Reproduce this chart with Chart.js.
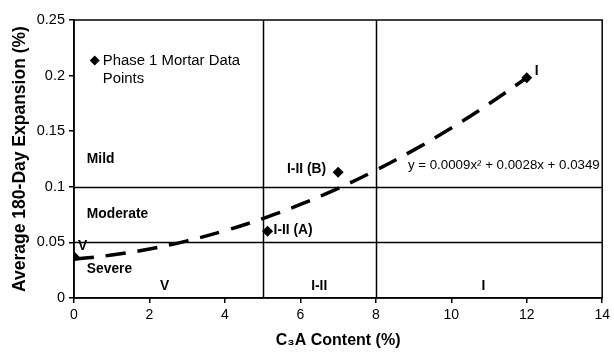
<!DOCTYPE html>
<html>
<head>
<meta charset="utf-8">
<script src="https://cdn.jsdelivr.net/npm/chart.js@4.4.1/dist/chart.umd.min.js"></script>
<style>
    html, body { margin: 0; padding: 0; background: #fff; }
    #wrap { width: 614px; height: 354px; }
</style>
</head>
<body>
<div id="wrap"><canvas id="c3aChart"></canvas></div>
<script>
// mortar data points (C3A %, expansion %)
const pointX = [0, 5.13, 7.0, 12.0];
const pointY = [0.037, 0.060, 0.113, 0.198];
const pointLabels = ['V', 'I-II (A)', 'I-II (B)', 'I'];

// polynomial trend line
const trendX = [0, 1, 2, 3, 4, 5, 6, 7, 8, 9, 10, 11, 12];
const trendY = [0.0349, 0.0386, 0.0441, 0.0514, 0.0605, 0.0714, 0.0841, 0.0986, 0.1149, 0.1330, 0.1529, 0.1746, 0.1981];

// zone boundaries
const zoneX = [5, 8];
const zoneY = [0.05, 0.1];

const severityLabels = ['Mild', 'Moderate', 'Severe'];
const severityY = [0.125, 0.075, 0.026];
const typeLabels = ['V', 'I-II', 'I'];
const typeX = [2.4, 6.5, 10.85];

const equationText = 'y = 0.0009x\u00B2 + 0.0028x + 0.0349';
const legendText = ['Phase 1 Mortar Data', 'Points'];

const font = '"Liberation Sans", Arial, sans-serif';

const overlayPlugin = {
    id: 'overlay',
    beforeDatasetsDraw(chart) {
        const ctx = chart.ctx;
        const xs = chart.scales.x, ys = chart.scales.y;
        const area = chart.chartArea;
        ctx.save();
        ctx.strokeStyle = '#000';
        ctx.lineWidth = 1.5;
        zoneX.forEach(v => {
            const px = Math.round(xs.getPixelForValue(v)) + 0.5;
            ctx.beginPath();
            ctx.moveTo(px, area.top);
            ctx.lineTo(px, area.bottom);
            ctx.stroke();
        });
        zoneY.forEach(v => {
            const py = Math.round(ys.getPixelForValue(v)) + 0.5;
            ctx.beginPath();
            ctx.moveTo(area.left, py);
            ctx.lineTo(area.right, py);
            ctx.stroke();
        });
        ctx.strokeRect(area.left, area.top, area.right - area.left, area.bottom - area.top);
        ctx.restore();
    },
    afterDatasetsDraw(chart) {
        const ctx = chart.ctx;
        const xs = chart.scales.x, ys = chart.scales.y;
        ctx.save();
        ctx.fillStyle = '#000';
        ctx.textBaseline = 'middle';

        ctx.font = 'bold 13.8px ' + font;
        ctx.textAlign = 'left';
        severityLabels.forEach((t, i) => {
            ctx.fillText(t, xs.getPixelForValue(0.34), ys.getPixelForValue(severityY[i]));
        });
        ctx.textAlign = 'center';
        typeLabels.forEach((t, i) => {
            ctx.fillText(t, xs.getPixelForValue(typeX[i]), ys.getPixelForValue(0.011));
        });

        // labels next to the data points
        const px = i => xs.getPixelForValue(pointX[i]);
        const py = i => ys.getPixelForValue(pointY[i]);
        ctx.textAlign = 'left';
        ctx.fillText(pointLabels[0], px(0) + 4, py(0) - 11);
        ctx.fillText(pointLabels[1], px(1) + 6, py(1) - 1);
        ctx.textAlign = 'right';
        ctx.fillText(pointLabels[2], px(2) - 12, py(2) - 3);
        ctx.textAlign = 'left';
        ctx.fillText(pointLabels[3], px(3) + 8, py(3) - 7);

        ctx.font = '13.3px ' + font;
        ctx.fillText(equationText, xs.getPixelForValue(8.85), ys.getPixelForValue(0.1195));

        // legend
        const lx = xs.getPixelForValue(0.55), ly = ys.getPixelForValue(0.2135);
        ctx.beginPath();
        ctx.moveTo(lx, ly - 5);
        ctx.lineTo(lx + 5, ly);
        ctx.lineTo(lx, ly + 5);
        ctx.lineTo(lx - 5, ly);
        ctx.closePath();
        ctx.fill();
        ctx.font = '14.9px ' + font;
        ctx.fillText(legendText[0], lx + 8, ly);
        ctx.fillText(legendText[1], lx + 8, ly + 18);
        ctx.restore();
    }
};

const ctx = document.getElementById('c3aChart').getContext('2d');
new Chart(ctx, {
    type: 'scatter',
    data: {
        datasets: [{
            label: 'Trend',
            data: trendX.map((x, i) => ({ x: x, y: trendY[i] })),
            showLine: true,
            borderColor: '#000',
            borderWidth: 3.5,
            borderDash: [20, 12],
            tension: 0.4,
            pointRadius: 0
        }, {
            label: 'Phase 1 Mortar Data Points',
            data: pointX.map((x, i) => ({ x: x, y: pointY[i] })),
            pointStyle: 'rectRot',
            pointRadius: 5.5,
            backgroundColor: '#000',
            borderColor: '#000',
            borderWidth: 0
        }]
    },
    plugins: [overlayPlugin],
    options: {
        responsive: true,
        maintainAspectRatio: false,
        animation: false,
        layout: { padding: { top: 20, right: 8, left: 6, bottom: 0 } },
        plugins: {
            legend: { display: false },
            tooltip: { enabled: false }
        },
        scales: {
            x: {
                type: 'linear',
                min: 0,
                max: 14,
                afterFit: s => { s.height = 56; },
                ticks: {
                    stepSize: 2,
                    color: '#000',
                    padding: 4,
                    font: { family: font, size: 14 }
                },
                grid: { drawOnChartArea: false, tickLength: 5, tickColor: '#000', lineWidth: 1.5 },
                border: { color: '#000', width: 1.5 },
                title: {
                    display: true,
                    text: 'C\u2083A Content (%)',
                    color: '#000',
                    padding: { top: 4 },
                    font: { family: font, size: 16, weight: 'bold' }
                }
            },
            y: {
                type: 'linear',
                min: 0,
                max: 0.25,
                afterFit: s => { s.width = 68; },
                ticks: {
                    stepSize: 0.05,
                    color: '#000',
                    padding: 4,
                    font: { family: font, size: 14.5 },
                    callback: v => String(Math.round(v * 100) / 100)
                },
                grid: { drawOnChartArea: false, tickLength: 5, tickColor: '#000', lineWidth: 1.5 },
                border: { color: '#000', width: 1.5 },
                title: {
                    display: true,
                    text: 'Average 180-Day Expansion (%)',
                    color: '#000',
                    padding: { bottom: 2 },
                    font: { family: font, size: 17.5, weight: 'bold' }
                }
            }
        }
    }
});
</script>
</body>
</html>
